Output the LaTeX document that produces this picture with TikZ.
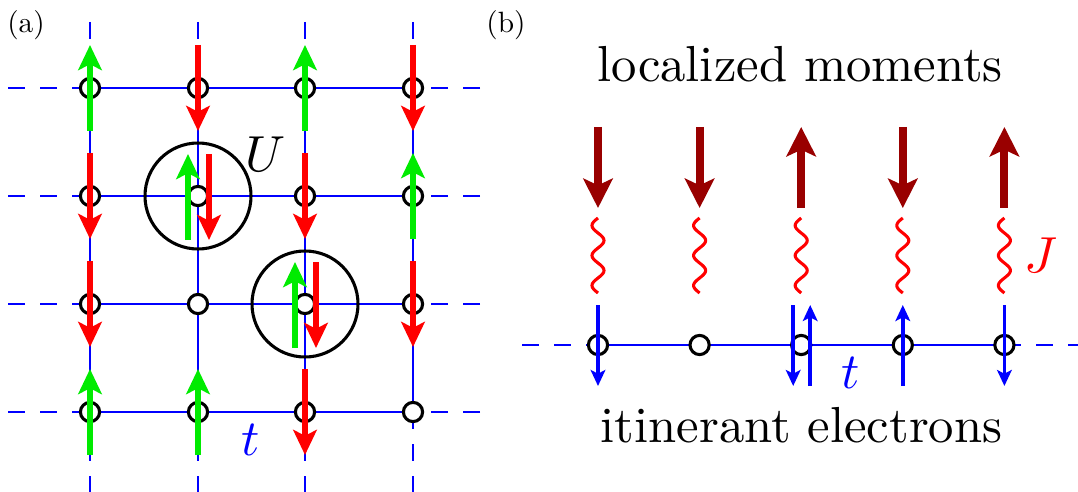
\documentclass[tikz,border=0pt]{standalone}
\usetikzlibrary{arrows.meta,calc}
\definecolor{spingreen}{RGB}{0,235,0}
\definecolor{spinred}{RGB}{255,0,0}
\definecolor{momred}{RGB}{153,0,0}
\newcommand{\bigtxt}[1]{\scalebox{1.9}{#1}}
\newcommand{\paneltxt}[1]{\scalebox{1.1}{#1}}
\begin{document}
\begin{tikzpicture}[x=0.375pt,y=-0.375pt,
  site/.style={circle,draw=black,fill=white,line width=1.15pt,minimum size=7.2pt,inner sep=0pt},
  bond/.style={blue,line width=0.8pt},
  ext/.style={blue,line width=0.8pt,dash pattern=on 6.2pt off 5.8pt},
  spin/.style={line width=1.9pt,-{Stealth[length=9.4pt,width=8.8pt,inset=2.2pt]}},
  moment/.style={momred,line width=3pt,-{Stealth[length=11pt,width=11pt,inset=2.5pt]}},
  elec/.style={blue,line width=1.3pt,-{Stealth[length=6pt,width=5.5pt,inset=1.4pt]}},
  bigcirc/.style={circle,draw=black,line width=1.15pt,minimum size=39.75pt,inner sep=0pt},
  bigtext/.style={font=\fontsize{10}{12}\selectfont,inner sep=0pt,anchor=base},
  panel/.style={font=\fontsize{10}{12}\selectfont,inner sep=0pt,anchor=base},
  wig/.style={red,line width=1.15pt}
]
\useasboundingbox (0,0) rectangle (1078,492);

% ---------- panel (a) ----------
\foreach \i/\px in {1/90,2/198,3/305,4/413}
  \foreach \j/\py in {1/88,2/196,3/304,4/412}
    \coordinate (p\i\j) at (\px,\py);
\foreach \j/\py in {1/88,2/196,3/304,4/412}{
  \coordinate (L\j) at (8,\py);
  \coordinate (R\j) at (480,\py);
}
\foreach \i/\px in {1/90,2/198,3/305,4/413}{
  \coordinate (T\i) at (\px,22);
  \coordinate (B\i) at (\px,492);
}
\foreach \j in {1,...,4}{
  \draw[bond] (p1\j) -- (p4\j);
  \draw[ext] (L\j) -- (p1\j);
  \draw[ext] (R\j) -- (p4\j);
}
\foreach \i in {1,...,4}{
  \draw[bond] (p\i1) -- (p\i4);
  \draw[ext] (T\i) -- (p\i1);
  \draw[ext] (p\i4) -- (B\i);
}
\foreach \i in {1,...,4}
  \foreach \j in {1,...,4}
    \node[site] (s\i\j) at (p\i\j) {};

\foreach \s in {11,31,42,14,24}
  \draw[spin,spingreen] ($(s\s)+(0,43)$) -- ($(s\s)+(0,-43)$);
\foreach \s in {21,41,12,32,13,43,34}
  \draw[spin,spinred] ($(s\s)+(0,-43)$) -- ($(s\s)+(0,43)$);
\foreach \s in {22,33}{
  \draw[spin,spingreen] ($(s\s)+(-10,44)$) -- ($(s\s)+(-10,-42)$);
  \draw[spin,spinred] ($(s\s)+(11,-42)$) -- ($(s\s)+(11,44)$);
}
\node[bigcirc] (U1) at (s22) {};
\node[bigcirc] (U2) at (s33) {};

\node[bigtext] (lU) at (266,172) {\bigtxt{$U$}};
\node[bigtext,blue] (ta) at (251,455) {\bigtxt{$t$}};
\node[panel] (la) at (26,33) {\paneltxt{(a)}};

% ---------- panel (b) ----------
\foreach \i/\px in {1/598,2/699.6,3/801.2,4/902.8,5/1004.4}
  \coordinate (q\i) at (\px,345);
\coordinate (qL) at (522,345);
\coordinate (qR) at (1078,345);
\draw[bond] (q1) -- (q5);
\draw[ext] (qL) -- (q1);
\draw[ext] (q5) -- (qR);
\foreach \i in {1,...,5}
  \node[site] (t\i) at (q\i) {};

\foreach \i in {1,5}
  \draw[elec] ($(t\i)+(0,-40)$) -- ($(t\i)+(0,41)$);
\draw[elec] ($(t3)+(-8,-40)$) -- ($(t3)+(-8,41)$);
\draw[elec] ($(t3)+(9,41)$) -- ($(t3)+(9,-40)$);
\draw[elec] ($(t4)+(0,41)$) -- ($(t4)+(0,-40)$);

\foreach \i in {1,2,4}
  \draw[moment] ($(t\i)+(0,-218)$) -- ($(t\i)+(0,-137)$);
\foreach \i in {3,5}
  \draw[moment] ($(t\i)+(0,-137)$) -- ($(t\i)+(0,-218)$);

\foreach \px in {598,699.6,801.2,902.8,1004.4}
  \draw[wig] plot[domain=0:900,samples=91,smooth] ({\px-6*sin(\x)},{218+\x/12});

\node[bigtext] (lm) at (800,82) {\bigtxt{localized moments}};
\node[bigtext] (ie) at (801.5,442) {\bigtxt{itinerant electrons}};
\node[bigtext,blue] (tb) at (851,388) {\bigtxt{$t$}};
\node[bigtext,red] (lJ) at (1041,272) {\bigtxt{$J$}};
\node[panel] (lb) at (506,33) {\paneltxt{(b)}};
\end{tikzpicture}
\end{document}
